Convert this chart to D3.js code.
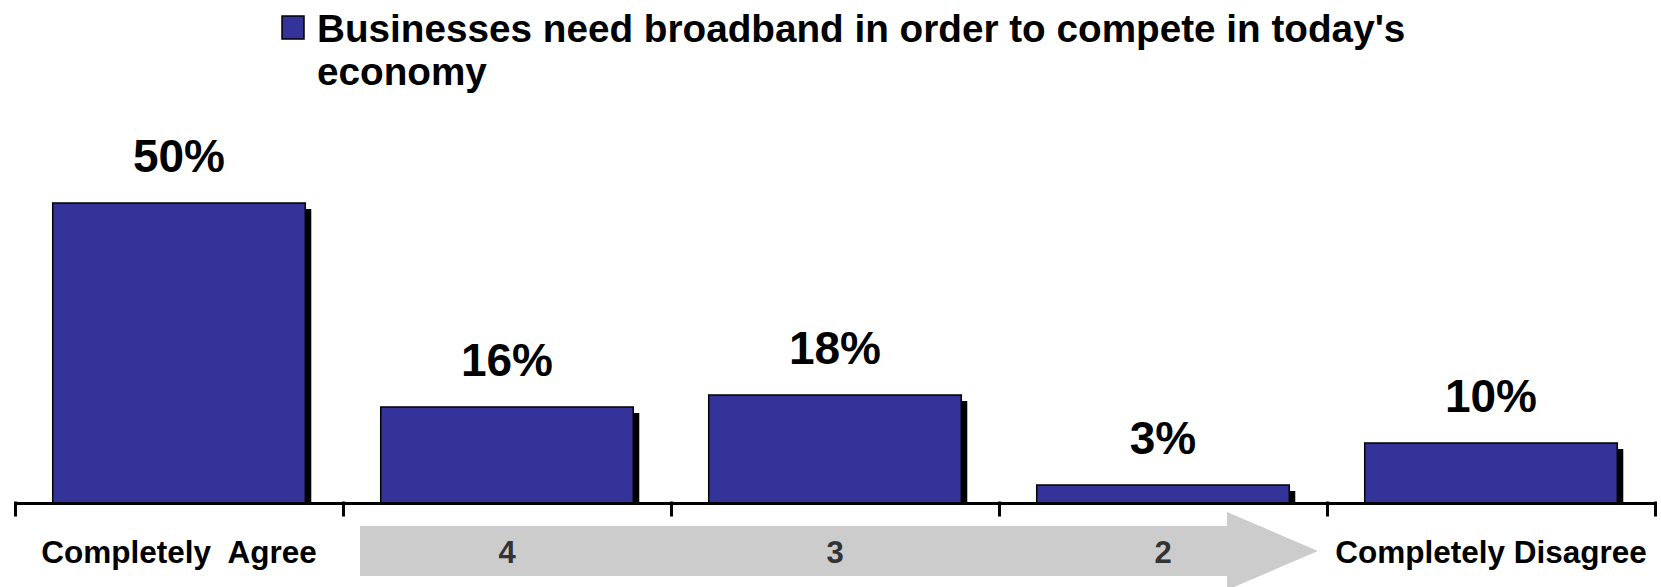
<!DOCTYPE html>
<html>
<head>
<meta charset="utf-8">
<script src="https://cdn.jsdelivr.net/npm/d3@7"></script>
<style>
    body { margin: 0; background: #ffffff; }
    text { font-family: "Liberation Sans", Arial, sans-serif; font-weight: bold; }
</style>
</head>
<body>
<div id="chart"></div>
<script>
// chart values
const categories = ["Completely  Agree", "4", "3", "2", "Completely Disagree"];
const values = [50, 16, 18, 3, 10];
const seriesName = ["Businesses need broadband in order to compete in today's", "economy"];
const arrowLabels = ["4", "3", "2"];

const size = {width: 1661, height: 587};
const barColor = "#333399";
const shadowOffset = 6;

const svg = d3.select("#chart").append("svg")
    .attr("width", size.width)
    .attr("height", size.height)
;

const xScale = d3.scaleBand()
    .domain(categories)
    .range([15, 1655])
    .paddingInner(0.23)
    .paddingOuter(0.115)
;
const yScale = d3.scaleLinear().domain([0, 50]).range([503, 203]);

// boundaries between categories, used for the axis ticks
const edgeScale = d3.scaleLinear().domain([0, categories.length]).range(xScale.range());

// gray arrow behind the middle labels
const arrowStart = edgeScale(1) + 17;
const arrowTip = edgeScale(4) - 9;
const arrowY = 551;
svg.append("path")
    .attr("class", "scaleArrow")
    .attr("d", d3.line()([
        [arrowStart, arrowY - 25],
        [arrowTip - 91, arrowY - 25],
        [arrowTip - 91, arrowY - 39],
        [arrowTip, arrowY],
        [arrowTip - 91, arrowY + 39],
        [arrowTip - 91, arrowY + 25],
        [arrowStart, arrowY + 25]
    ]) + "Z")
    .attr("fill", "#cccccc")
;

// bars with a black drop shadow
const barG = svg.selectAll(".barG")
    .data(values)
    .join("g")
    .attr("class", "barG")
;
barG.append("rect")
    .attr("class", "barShadow")
    .attr("x", (d, i) => xScale(categories[i]) + shadowOffset)
    .attr("y", d => yScale(d) + shadowOffset)
    .attr("width", xScale.bandwidth())
    .attr("height", d => yScale(0) - yScale(d) - shadowOffset)
    .attr("fill", "black")
;
barG.append("rect")
    .attr("class", "barRect")
    .attr("x", (d, i) => xScale(categories[i]))
    .attr("y", d => yScale(d))
    .attr("width", xScale.bandwidth())
    .attr("height", d => yScale(0) - yScale(d))
    .attr("fill", barColor)
    .attr("stroke", "black")
    .attr("stroke-width", 1.5)
;
barG.append("text")
    .attr("class", "valueLabel")
    .attr("x", (d, i) => xScale(categories[i]) + xScale.bandwidth() / 2)
    .attr("y", d => yScale(d) - 31)
    .attr("text-anchor", "middle")
    .attr("font-size", 46)
    .attr("fill", "black")
    .text(d => d + "%")
;

// axis
const xAxisG = svg.append("g")
    .attr("class", "xAxisG")
    .attr("transform", "translate(0," + yScale(0) + ")")
    .call(d3.axisBottom(edgeScale).ticks(categories.length).tickFormat("").tickSize(12).tickSizeOuter(0))
;
xAxisG.selectAll("path, line")
    .attr("stroke", "black")
    .attr("stroke-width", 3)
    .attr("stroke-linecap", "square")
;

// category labels
svg.selectAll(".catLabel")
    .data(categories)
    .join("text")
    .attr("class", "catLabel")
    .attr("x", d => xScale(d) + xScale.bandwidth() / 2)
    .attr("y", 563)
    .attr("text-anchor", "middle")
    .attr("font-size", d => arrowLabels.includes(d) ? 31 : 31.5)
    .attr("fill", d => arrowLabels.includes(d) ? "#333333" : "black")
    .style("white-space", "pre")
    .text(d => d)
;

// legend
svg.append("rect")
    .attr("x", 282)
    .attr("y", 16)
    .attr("width", 22)
    .attr("height", 23)
    .attr("fill", barColor)
    .attr("stroke", "black")
    .attr("stroke-width", 1.5)
;
svg.selectAll(".legendText")
    .data(seriesName)
    .join("text")
    .attr("class", "legendText")
    .attr("x", 317)
    .attr("y", (d, i) => 42 + i * 43)
    .attr("font-size", 38.7)
    .attr("fill", "black")
    .text(d => d)
;
</script>
</body>
</html>
